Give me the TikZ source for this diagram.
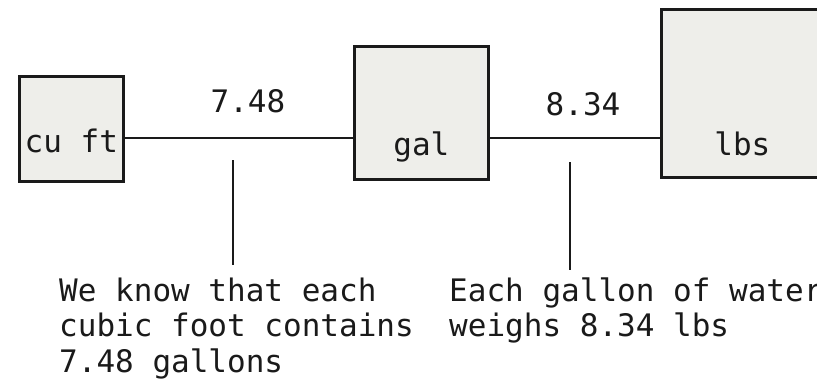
\documentclass[tikz,border=0pt]{standalone}
\usepackage{fontspec}
\newfontfamily\tdfont{DejaVu Sans Mono}
\definecolor{boxfill}{HTML}{EEEEEA}
\definecolor{ink}{HTML}{1A1A1A}
\begin{document}
\begin{tikzpicture}[x=1pt,y=-1pt,
  every node/.style={font=\tdfont\fontsize{31}{35.5}\selectfont, text=ink},
  unitbox/.style={draw=ink, line width=2.8pt, fill=boxfill, inner sep=0pt, anchor=north west},
  link/.style={draw=ink, line width=2.8pt},
  note/.style={align=left, inner sep=0pt, anchor=base west}
]
\clip (0,0) rectangle (817,383);
\fill[white] (0,0) rectangle (817,383);
% boxes
\node[unitbox, minimum width=104pt, text height=76pt, text depth=29pt] (cuft) at (18,75) {cu ft};
\node[unitbox, minimum width=134pt, text height=109pt, text depth=24pt] (gal) at (353,45) {gal};
\node[unitbox, minimum width=162pt, text height=146pt, text depth=22pt] (lbs) at (660,8) {lbs};
% horizontal connectors
\coordinate (h) at (0,138);
\draw[link] (cuft.east |- h) -- (gal.west |- h);
\draw[link] (gal.east |- h) -- (lbs.west |- h);
% factors
\node[anchor=base, inner sep=0pt] (f1) at (248,112) {7.48};
\node[anchor=base, inner sep=0pt] (f2) at (583,115) {8.34};
% pointer lines
\coordinate (p1a) at (233,160);
\coordinate (p1b) at (233,265);
\coordinate (p2a) at (570,162);
\coordinate (p2b) at (570,270);
\draw[link] (p1a) -- (p1b);
\draw[link] (p2a) -- (p2b);
% notes (base anchor = baseline of last line)
\node[note] (n1) at (59,372) {We know that each\\cubic foot contains\\7.48 gallons};
\node[note] (n2) at (449,336.5) {Each gallon of water\\weighs 8.34 lbs};
\end{tikzpicture}
\end{document}
